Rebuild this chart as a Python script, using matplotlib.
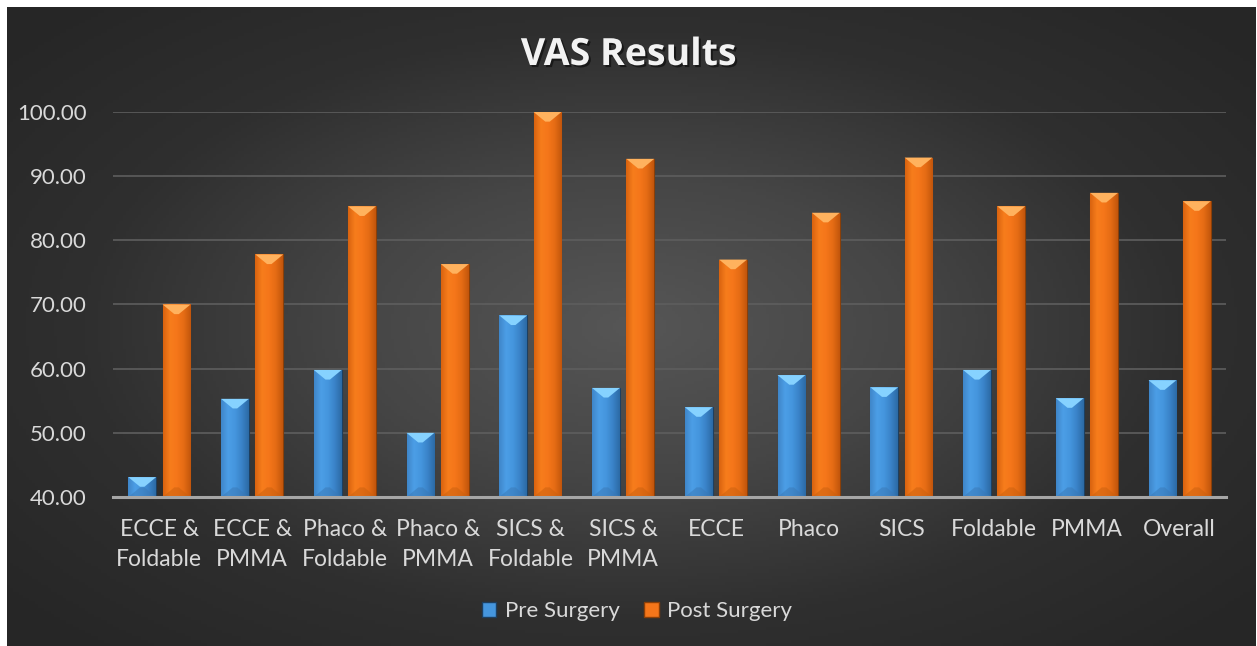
import numpy as np
import matplotlib.pyplot as plt
from matplotlib.colors import LinearSegmentedColormap
from matplotlib.patches import Polygon, Patch
import matplotlib.patheffects as pe

plt.rcParams['font.family'] = ['Lato', 'DejaVu Sans']

# data
categories = ['ECCE &\nFoldable', 'ECCE &\nPMMA', 'Phaco &\nFoldable', 'Phaco &\nPMMA',
              'SICS &\nFoldable', 'SICS &\nPMMA', 'ECCE', 'Phaco', 'SICS',
              'Foldable', 'PMMA', 'Overall']
pre_surgery = [43.1, 55.3, 59.8, 50.0, 68.3, 57.0, 54.0, 59.0, 57.1, 59.8, 55.4, 58.2]
post_surgery = [70.0, 77.8, 85.3, 76.3, 100.0, 92.7, 77.0, 84.3, 92.9, 85.3, 87.4, 86.1]
series_names = ['Pre Surgery', 'Post Surgery']
y_ticks = [40, 50, 60, 70, 80, 90, 100]

W, H = 1257, 646
fig = plt.figure(figsize=(W / 100, H / 100), dpi=100, facecolor='white')

# dark radial background
bg = fig.add_axes([7 / W, 0, (W - 8) / W, (H - 7) / H], zorder=-10)
gx, gy = np.meshgrid(np.linspace(-1, 1, 400), np.linspace(-1, 1, 200))
r = np.sqrt((gx * 0.95) ** 2 + (gy * 0.9) ** 2)
bgcmap = LinearSegmentedColormap.from_list('bg', ['#565656', '#464646', '#2f2f2f', '#262626'])
bg.imshow(np.clip(r / 1.25, 0, 1), cmap=bgcmap, vmin=0, vmax=1, aspect='auto', extent=[0, 1, 0, 1])
bg.axis('off')

ax = fig.add_axes([113 / W, 1 - 497 / H, (1226 - 113) / W, (497 - 112) / H])
ax.set_facecolor('none')

x = np.arange(len(categories))
w = 0.30
off = 0.185
ymin, ymax = 40, 100

blue_map = LinearSegmentedColormap.from_list('b', ['#3f86c9', '#4c9ee6', '#4596de', '#3a83c8', '#2c6aa5'])
orange_map = LinearSegmentedColormap.from_list('o', ['#d9630f', '#f77d1c', '#f5761a', '#e56c14', '#c2560c'])

pre_bars = ax.bar(x - off, pre_surgery, w, color='#4596de', edgecolor='#1d3f60', linewidth=0.8, zorder=3)
post_bars = ax.bar(x + off, post_surgery, w, color='#f5761a', edgecolor='#8a3f08', linewidth=0.8, zorder=3)


def shade(bars, cmap, top_col, low_col):
    grad = np.tile(np.linspace(0, 1, 60), (2, 1))
    for b in bars:
        x0 = b.get_x()
        x1 = x0 + b.get_width()
        top = b.get_height()
        im = ax.imshow(grad, cmap=cmap, aspect='auto', extent=[x0, x1, ymin, top], zorder=3.5)
        im.set_clip_path(b)
        bh = 1.5
        ax.add_patch(Polygon([(x0, top), (x1, top), (x1 - 0.42 * (x1 - x0), top - bh),
                              (x0 + 0.42 * (x1 - x0), top - bh)],
                             closed=True, facecolor=top_col, edgecolor='none', zorder=4))
        ax.add_patch(Polygon([(x0, ymin), (x1, ymin), (x1 - 0.42 * (x1 - x0), ymin + bh),
                              (x0 + 0.42 * (x1 - x0), ymin + bh)],
                             closed=True, facecolor=low_col, edgecolor='none', alpha=0.5, zorder=4))


shade(pre_bars, blue_map, '#86d2ff', '#3a78b5')
shade(post_bars, orange_map, '#ffb25e', '#c8600f')

ax.set_xlim(-0.5, len(categories) - 0.5)
ax.set_ylim(ymin, ymax)
ax.set_yticks(y_ticks)
ax.set_yticklabels(['%.2f' % t for t in y_ticks])
ax.set_xticks(x)
ax.set_xticklabels(categories, linespacing=1.5)
ax.tick_params(axis='both', length=0, colors='#d9d9d9', labelsize=16.5)
ax.tick_params(axis='y', labelsize=16, pad=19)
ax.tick_params(axis='x', pad=16)
ax.yaxis.grid(True, color='#5e5e5e', linewidth=1.2, zorder=0)
ax.set_axisbelow(True)
for s in ['left', 'right', 'top']:
    ax.spines[s].set_visible(False)
ax.spines['bottom'].set_color('#a6a6a6')
ax.spines['bottom'].set_linewidth(2.2)
ax.spines['bottom'].set_zorder(5)

fig.text(0.5, 1 - 55 / H, 'VAS Results', ha='center', va='center', fontsize=27,
         fontweight='bold', color='#f2f2f2', family=['Open Sans', 'DejaVu Sans'],
         path_effects=[pe.withSimplePatchShadow(offset=(1.5, -1.5), shadow_rgbFace='black', alpha=0.5)])

handles = [Patch(facecolor='#4596de', edgecolor='#1d3f60'),
           Patch(facecolor='#f5761a', edgecolor='#8a3f08')]
leg = fig.legend(handles, series_names, loc='center', bbox_to_anchor=(637 / W, 1 - 611 / H),
                 ncol=2, frameon=False, fontsize=16, handlelength=0.65, handleheight=0.65,
                 handletextpad=0.4, columnspacing=1.1)
for t in leg.get_texts():
    t.set_color('#d9d9d9')

fig.savefig('out.png', dpi=100, facecolor='white')
